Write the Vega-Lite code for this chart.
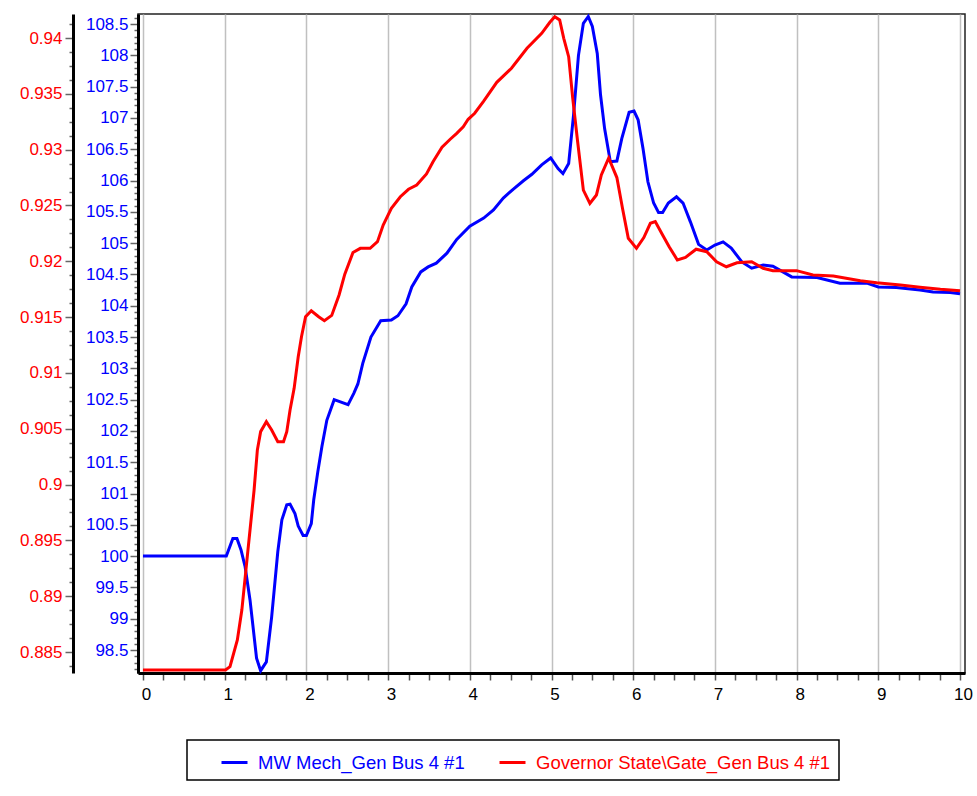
{
  "$schema": "https://vega.github.io/schema/vega-lite/v6.json",
  "width": 827,
  "height": 659,
  "autosize": {"type": "none"},
  "padding": {"left": 138, "top": 14, "right": 12, "bottom": 123},
  "background": "#ffffff",
  "config": {
    "font": "Liberation Sans",
    "view": {"stroke": "#222222", "strokeWidth": 1.5}
  },
  "data": {
    "values": [
      {"s": "MW Mech_Gen Bus 4 #1", "t": 0, "v": 100.0},
      {"s": "MW Mech_Gen Bus 4 #1", "t": 1.02, "v": 100.0},
      {"s": "MW Mech_Gen Bus 4 #1", "t": 1.1, "v": 100.28},
      {"s": "MW Mech_Gen Bus 4 #1", "t": 1.15, "v": 100.28},
      {"s": "MW Mech_Gen Bus 4 #1", "t": 1.2, "v": 100.1},
      {"s": "MW Mech_Gen Bus 4 #1", "t": 1.25, "v": 99.83},
      {"s": "MW Mech_Gen Bus 4 #1", "t": 1.31, "v": 99.3},
      {"s": "MW Mech_Gen Bus 4 #1", "t": 1.39, "v": 98.37},
      {"s": "MW Mech_Gen Bus 4 #1", "t": 1.44, "v": 98.17},
      {"s": "MW Mech_Gen Bus 4 #1", "t": 1.51, "v": 98.31},
      {"s": "MW Mech_Gen Bus 4 #1", "t": 1.575, "v": 99.03},
      {"s": "MW Mech_Gen Bus 4 #1", "t": 1.65, "v": 100.07},
      {"s": "MW Mech_Gen Bus 4 #1", "t": 1.7, "v": 100.58},
      {"s": "MW Mech_Gen Bus 4 #1", "t": 1.76, "v": 100.82},
      {"s": "MW Mech_Gen Bus 4 #1", "t": 1.8, "v": 100.83},
      {"s": "MW Mech_Gen Bus 4 #1", "t": 1.86, "v": 100.68},
      {"s": "MW Mech_Gen Bus 4 #1", "t": 1.9, "v": 100.48},
      {"s": "MW Mech_Gen Bus 4 #1", "t": 1.96, "v": 100.33},
      {"s": "MW Mech_Gen Bus 4 #1", "t": 2.0, "v": 100.33},
      {"s": "MW Mech_Gen Bus 4 #1", "t": 2.06, "v": 100.52},
      {"s": "MW Mech_Gen Bus 4 #1", "t": 2.09, "v": 100.9},
      {"s": "MW Mech_Gen Bus 4 #1", "t": 2.14, "v": 101.35},
      {"s": "MW Mech_Gen Bus 4 #1", "t": 2.19, "v": 101.75},
      {"s": "MW Mech_Gen Bus 4 #1", "t": 2.25, "v": 102.17},
      {"s": "MW Mech_Gen Bus 4 #1", "t": 2.34, "v": 102.5},
      {"s": "MW Mech_Gen Bus 4 #1", "t": 2.51, "v": 102.42},
      {"s": "MW Mech_Gen Bus 4 #1", "t": 2.58, "v": 102.6},
      {"s": "MW Mech_Gen Bus 4 #1", "t": 2.63, "v": 102.75},
      {"s": "MW Mech_Gen Bus 4 #1", "t": 2.69, "v": 103.08},
      {"s": "MW Mech_Gen Bus 4 #1", "t": 2.79, "v": 103.5},
      {"s": "MW Mech_Gen Bus 4 #1", "t": 2.91, "v": 103.76},
      {"s": "MW Mech_Gen Bus 4 #1", "t": 3.04, "v": 103.77},
      {"s": "MW Mech_Gen Bus 4 #1", "t": 3.12, "v": 103.84},
      {"s": "MW Mech_Gen Bus 4 #1", "t": 3.22, "v": 104.03},
      {"s": "MW Mech_Gen Bus 4 #1", "t": 3.29, "v": 104.3},
      {"s": "MW Mech_Gen Bus 4 #1", "t": 3.4, "v": 104.54},
      {"s": "MW Mech_Gen Bus 4 #1", "t": 3.49, "v": 104.62},
      {"s": "MW Mech_Gen Bus 4 #1", "t": 3.59, "v": 104.68},
      {"s": "MW Mech_Gen Bus 4 #1", "t": 3.72, "v": 104.84},
      {"s": "MW Mech_Gen Bus 4 #1", "t": 3.84, "v": 105.06},
      {"s": "MW Mech_Gen Bus 4 #1", "t": 4.0, "v": 105.27},
      {"s": "MW Mech_Gen Bus 4 #1", "t": 4.17, "v": 105.4},
      {"s": "MW Mech_Gen Bus 4 #1", "t": 4.29, "v": 105.53},
      {"s": "MW Mech_Gen Bus 4 #1", "t": 4.41, "v": 105.72},
      {"s": "MW Mech_Gen Bus 4 #1", "t": 4.53, "v": 105.86},
      {"s": "MW Mech_Gen Bus 4 #1", "t": 4.66, "v": 106.0},
      {"s": "MW Mech_Gen Bus 4 #1", "t": 4.76, "v": 106.1},
      {"s": "MW Mech_Gen Bus 4 #1", "t": 4.88, "v": 106.25},
      {"s": "MW Mech_Gen Bus 4 #1", "t": 4.99, "v": 106.36},
      {"s": "MW Mech_Gen Bus 4 #1", "t": 5.08, "v": 106.19},
      {"s": "MW Mech_Gen Bus 4 #1", "t": 5.14, "v": 106.11},
      {"s": "MW Mech_Gen Bus 4 #1", "t": 5.21, "v": 106.27},
      {"s": "MW Mech_Gen Bus 4 #1", "t": 5.27, "v": 107.05},
      {"s": "MW Mech_Gen Bus 4 #1", "t": 5.33, "v": 108.0},
      {"s": "MW Mech_Gen Bus 4 #1", "t": 5.39, "v": 108.51},
      {"s": "MW Mech_Gen Bus 4 #1", "t": 5.45, "v": 108.62},
      {"s": "MW Mech_Gen Bus 4 #1", "t": 5.5, "v": 108.46},
      {"s": "MW Mech_Gen Bus 4 #1", "t": 5.56, "v": 108.03},
      {"s": "MW Mech_Gen Bus 4 #1", "t": 5.6, "v": 107.37},
      {"s": "MW Mech_Gen Bus 4 #1", "t": 5.65, "v": 106.83},
      {"s": "MW Mech_Gen Bus 4 #1", "t": 5.72, "v": 106.3},
      {"s": "MW Mech_Gen Bus 4 #1", "t": 5.8, "v": 106.31},
      {"s": "MW Mech_Gen Bus 4 #1", "t": 5.86, "v": 106.67},
      {"s": "MW Mech_Gen Bus 4 #1", "t": 5.95, "v": 107.09},
      {"s": "MW Mech_Gen Bus 4 #1", "t": 6.01, "v": 107.11},
      {"s": "MW Mech_Gen Bus 4 #1", "t": 6.06, "v": 106.97},
      {"s": "MW Mech_Gen Bus 4 #1", "t": 6.12, "v": 106.51},
      {"s": "MW Mech_Gen Bus 4 #1", "t": 6.18, "v": 105.98},
      {"s": "MW Mech_Gen Bus 4 #1", "t": 6.25, "v": 105.64},
      {"s": "MW Mech_Gen Bus 4 #1", "t": 6.31, "v": 105.49},
      {"s": "MW Mech_Gen Bus 4 #1", "t": 6.36, "v": 105.49},
      {"s": "MW Mech_Gen Bus 4 #1", "t": 6.43, "v": 105.64},
      {"s": "MW Mech_Gen Bus 4 #1", "t": 6.53, "v": 105.74},
      {"s": "MW Mech_Gen Bus 4 #1", "t": 6.61, "v": 105.64},
      {"s": "MW Mech_Gen Bus 4 #1", "t": 6.7, "v": 105.34},
      {"s": "MW Mech_Gen Bus 4 #1", "t": 6.8, "v": 104.98},
      {"s": "MW Mech_Gen Bus 4 #1", "t": 6.9, "v": 104.89},
      {"s": "MW Mech_Gen Bus 4 #1", "t": 7.0, "v": 104.97},
      {"s": "MW Mech_Gen Bus 4 #1", "t": 7.1, "v": 105.02},
      {"s": "MW Mech_Gen Bus 4 #1", "t": 7.2, "v": 104.92},
      {"s": "MW Mech_Gen Bus 4 #1", "t": 7.33, "v": 104.7},
      {"s": "MW Mech_Gen Bus 4 #1", "t": 7.45, "v": 104.6},
      {"s": "MW Mech_Gen Bus 4 #1", "t": 7.59, "v": 104.65},
      {"s": "MW Mech_Gen Bus 4 #1", "t": 7.71, "v": 104.63},
      {"s": "MW Mech_Gen Bus 4 #1", "t": 7.94, "v": 104.46},
      {"s": "MW Mech_Gen Bus 4 #1", "t": 8.25, "v": 104.45},
      {"s": "MW Mech_Gen Bus 4 #1", "t": 8.53, "v": 104.36},
      {"s": "MW Mech_Gen Bus 4 #1", "t": 8.86, "v": 104.36},
      {"s": "MW Mech_Gen Bus 4 #1", "t": 9.0, "v": 104.3},
      {"s": "MW Mech_Gen Bus 4 #1", "t": 9.22, "v": 104.29},
      {"s": "MW Mech_Gen Bus 4 #1", "t": 9.51, "v": 104.25},
      {"s": "MW Mech_Gen Bus 4 #1", "t": 9.67, "v": 104.22},
      {"s": "MW Mech_Gen Bus 4 #1", "t": 9.88, "v": 104.21},
      {"s": "MW Mech_Gen Bus 4 #1", "t": 10.0, "v": 104.19},
      {"s": "Governor State\\Gate_Gen Bus 4 #1", "t": 0, "v": 0.88339},
      {"s": "Governor State\\Gate_Gen Bus 4 #1", "t": 1.01, "v": 0.88339},
      {"s": "Governor State\\Gate_Gen Bus 4 #1", "t": 1.065, "v": 0.88369},
      {"s": "Governor State\\Gate_Gen Bus 4 #1", "t": 1.155, "v": 0.88608},
      {"s": "Governor State\\Gate_Gen Bus 4 #1", "t": 1.21, "v": 0.88876},
      {"s": "Governor State\\Gate_Gen Bus 4 #1", "t": 1.26, "v": 0.89235},
      {"s": "Governor State\\Gate_Gen Bus 4 #1", "t": 1.31, "v": 0.89593},
      {"s": "Governor State\\Gate_Gen Bus 4 #1", "t": 1.36, "v": 0.89951},
      {"s": "Governor State\\Gate_Gen Bus 4 #1", "t": 1.4, "v": 0.9031},
      {"s": "Governor State\\Gate_Gen Bus 4 #1", "t": 1.44, "v": 0.90474},
      {"s": "Governor State\\Gate_Gen Bus 4 #1", "t": 1.51, "v": 0.90563},
      {"s": "Governor State\\Gate_Gen Bus 4 #1", "t": 1.575, "v": 0.90489},
      {"s": "Governor State\\Gate_Gen Bus 4 #1", "t": 1.65, "v": 0.90384},
      {"s": "Governor State\\Gate_Gen Bus 4 #1", "t": 1.72, "v": 0.90384},
      {"s": "Governor State\\Gate_Gen Bus 4 #1", "t": 1.76, "v": 0.90474},
      {"s": "Governor State\\Gate_Gen Bus 4 #1", "t": 1.8, "v": 0.90668},
      {"s": "Governor State\\Gate_Gen Bus 4 #1", "t": 1.85, "v": 0.90862},
      {"s": "Governor State\\Gate_Gen Bus 4 #1", "t": 1.9, "v": 0.91145},
      {"s": "Governor State\\Gate_Gen Bus 4 #1", "t": 1.94, "v": 0.91324},
      {"s": "Governor State\\Gate_Gen Bus 4 #1", "t": 1.99, "v": 0.91503},
      {"s": "Governor State\\Gate_Gen Bus 4 #1", "t": 2.06, "v": 0.91557},
      {"s": "Governor State\\Gate_Gen Bus 4 #1", "t": 2.15, "v": 0.91503},
      {"s": "Governor State\\Gate_Gen Bus 4 #1", "t": 2.22, "v": 0.91468},
      {"s": "Governor State\\Gate_Gen Bus 4 #1", "t": 2.31, "v": 0.91515},
      {"s": "Governor State\\Gate_Gen Bus 4 #1", "t": 2.4, "v": 0.91698},
      {"s": "Governor State\\Gate_Gen Bus 4 #1", "t": 2.47, "v": 0.91885},
      {"s": "Governor State\\Gate_Gen Bus 4 #1", "t": 2.57, "v": 0.92078},
      {"s": "Governor State\\Gate_Gen Bus 4 #1", "t": 2.66, "v": 0.92116},
      {"s": "Governor State\\Gate_Gen Bus 4 #1", "t": 2.78, "v": 0.92116},
      {"s": "Governor State\\Gate_Gen Bus 4 #1", "t": 2.87, "v": 0.92175},
      {"s": "Governor State\\Gate_Gen Bus 4 #1", "t": 2.94, "v": 0.92325},
      {"s": "Governor State\\Gate_Gen Bus 4 #1", "t": 3.04, "v": 0.92474},
      {"s": "Governor State\\Gate_Gen Bus 4 #1", "t": 3.15, "v": 0.92578},
      {"s": "Governor State\\Gate_Gen Bus 4 #1", "t": 3.25, "v": 0.92645},
      {"s": "Governor State\\Gate_Gen Bus 4 #1", "t": 3.35, "v": 0.92683},
      {"s": "Governor State\\Gate_Gen Bus 4 #1", "t": 3.47, "v": 0.92782},
      {"s": "Governor State\\Gate_Gen Bus 4 #1", "t": 3.55, "v": 0.92892},
      {"s": "Governor State\\Gate_Gen Bus 4 #1", "t": 3.66, "v": 0.93021},
      {"s": "Governor State\\Gate_Gen Bus 4 #1", "t": 3.76, "v": 0.93093},
      {"s": "Governor State\\Gate_Gen Bus 4 #1", "t": 3.84, "v": 0.93146},
      {"s": "Governor State\\Gate_Gen Bus 4 #1", "t": 3.92, "v": 0.93205},
      {"s": "Governor State\\Gate_Gen Bus 4 #1", "t": 3.98, "v": 0.93272},
      {"s": "Governor State\\Gate_Gen Bus 4 #1", "t": 4.06, "v": 0.93326},
      {"s": "Governor State\\Gate_Gen Bus 4 #1", "t": 4.17, "v": 0.93435},
      {"s": "Governor State\\Gate_Gen Bus 4 #1", "t": 4.33, "v": 0.93603},
      {"s": "Governor State\\Gate_Gen Bus 4 #1", "t": 4.51, "v": 0.93729},
      {"s": "Governor State\\Gate_Gen Bus 4 #1", "t": 4.7, "v": 0.93908},
      {"s": "Governor State\\Gate_Gen Bus 4 #1", "t": 4.88, "v": 0.94042},
      {"s": "Governor State\\Gate_Gen Bus 4 #1", "t": 4.98, "v": 0.94141},
      {"s": "Governor State\\Gate_Gen Bus 4 #1", "t": 5.04, "v": 0.94191},
      {"s": "Governor State\\Gate_Gen Bus 4 #1", "t": 5.1, "v": 0.94161},
      {"s": "Governor State\\Gate_Gen Bus 4 #1", "t": 5.15, "v": 0.93997},
      {"s": "Governor State\\Gate_Gen Bus 4 #1", "t": 5.21, "v": 0.93833},
      {"s": "Governor State\\Gate_Gen Bus 4 #1", "t": 5.26, "v": 0.9346},
      {"s": "Governor State\\Gate_Gen Bus 4 #1", "t": 5.32, "v": 0.93071},
      {"s": "Governor State\\Gate_Gen Bus 4 #1", "t": 5.39, "v": 0.92638},
      {"s": "Governor State\\Gate_Gen Bus 4 #1", "t": 5.47, "v": 0.92519},
      {"s": "Governor State\\Gate_Gen Bus 4 #1", "t": 5.55, "v": 0.92594},
      {"s": "Governor State\\Gate_Gen Bus 4 #1", "t": 5.61, "v": 0.92773},
      {"s": "Governor State\\Gate_Gen Bus 4 #1", "t": 5.7, "v": 0.92925},
      {"s": "Governor State\\Gate_Gen Bus 4 #1", "t": 5.8, "v": 0.9275},
      {"s": "Governor State\\Gate_Gen Bus 4 #1", "t": 5.87, "v": 0.9247},
      {"s": "Governor State\\Gate_Gen Bus 4 #1", "t": 5.94, "v": 0.92206},
      {"s": "Governor State\\Gate_Gen Bus 4 #1", "t": 6.04, "v": 0.92116},
      {"s": "Governor State\\Gate_Gen Bus 4 #1", "t": 6.13, "v": 0.92212},
      {"s": "Governor State\\Gate_Gen Bus 4 #1", "t": 6.21, "v": 0.9234},
      {"s": "Governor State\\Gate_Gen Bus 4 #1", "t": 6.27, "v": 0.92355},
      {"s": "Governor State\\Gate_Gen Bus 4 #1", "t": 6.36, "v": 0.92235},
      {"s": "Governor State\\Gate_Gen Bus 4 #1", "t": 6.44, "v": 0.9213},
      {"s": "Governor State\\Gate_Gen Bus 4 #1", "t": 6.54, "v": 0.92012},
      {"s": "Governor State\\Gate_Gen Bus 4 #1", "t": 6.64, "v": 0.92035},
      {"s": "Governor State\\Gate_Gen Bus 4 #1", "t": 6.77, "v": 0.92108},
      {"s": "Governor State\\Gate_Gen Bus 4 #1", "t": 6.9, "v": 0.92086},
      {"s": "Governor State\\Gate_Gen Bus 4 #1", "t": 7.02, "v": 0.91996},
      {"s": "Governor State\\Gate_Gen Bus 4 #1", "t": 7.14, "v": 0.91951},
      {"s": "Governor State\\Gate_Gen Bus 4 #1", "t": 7.27, "v": 0.91987},
      {"s": "Governor State\\Gate_Gen Bus 4 #1", "t": 7.45, "v": 0.91996},
      {"s": "Governor State\\Gate_Gen Bus 4 #1", "t": 7.59, "v": 0.91937},
      {"s": "Governor State\\Gate_Gen Bus 4 #1", "t": 7.71, "v": 0.91916},
      {"s": "Governor State\\Gate_Gen Bus 4 #1", "t": 8.0, "v": 0.91916},
      {"s": "Governor State\\Gate_Gen Bus 4 #1", "t": 8.2, "v": 0.91877},
      {"s": "Governor State\\Gate_Gen Bus 4 #1", "t": 8.45, "v": 0.91868},
      {"s": "Governor State\\Gate_Gen Bus 4 #1", "t": 8.78, "v": 0.91826},
      {"s": "Governor State\\Gate_Gen Bus 4 #1", "t": 8.98, "v": 0.91808},
      {"s": "Governor State\\Gate_Gen Bus 4 #1", "t": 9.27, "v": 0.91788},
      {"s": "Governor State\\Gate_Gen Bus 4 #1", "t": 9.51, "v": 0.91767},
      {"s": "Governor State\\Gate_Gen Bus 4 #1", "t": 9.76, "v": 0.91749},
      {"s": "Governor State\\Gate_Gen Bus 4 #1", "t": 10.0, "v": 0.91736}
    ]
  },
  "encoding": {
    "x": {
      "field": "t",
      "type": "quantitative",
      "scale": {"domain": [-0.061, 10.061], "nice": false, "zero": false},
      "axis": {
        "title": null,
        "values": [0,0.25,0.5,0.75,1,1.25,1.5,1.75,2,2.25,2.5,2.75,3,3.25,3.5,3.75,4,4.25,4.5,4.75,5,5.25,5.5,5.75,6,6.25,6.5,6.75,7,7.25,7.5,7.75,8,8.25,8.5,8.75,9,9.25,9.5,9.75,10],
        "labelExpr": "datum.value % 1 === 0 ? format(datum.value, 'd') : ''",
        "grid": true,
        "gridColor": "#c0c0c0",
        "gridWidth": 1.5,
        "gridOpacity": {"condition": {"test": "datum.value % 1 !== 0", "value": 0}, "value": 1},
        "domainColor": "#000000",
        "domainWidth": 3,
        "tickColor": "#555555",
        "tickSize": 7,
        "tickWidth": 1.5,
        "labelFontSize": 17,
        "labelColor": "#000000",
        "labelPadding": 6,
        "labelOffset": 3,
        "labelFlush": false,
        "labelOverlap": false
      }
    },
    "color": {
      "field": "s",
      "type": "nominal",
      "scale": {
        "domain": ["MW Mech_Gen Bus 4 #1", "Governor State\\Gate_Gen Bus 4 #1"],
        "range": ["#0000ff", "#ff0000"]
      },
      "legend": {
        "orient": "none",
        "legendX": 49,
        "legendY": 726,
        "direction": "horizontal",
        "title": null,
        "symbolType": "stroke",
        "symbolStrokeWidth": 3,
        "symbolSize": 676,
        "symbolOffset": 25,
        "labelOffset": 9,
        "labelFontSize": 18.5,
        "labelFont": "Liberation Sans",
        "labelLimit": 400,
        "columnPadding": 8,
        "padding": 8,
        "strokeColor": "#000000",
        "fillColor": "#ffffff",
        "encode": {
          "legend": {"update": {"strokeWidth": {"value": 1.5}}},
          "labels": {"update": {"fill": {"signal": "datum.value === 'MW Mech_Gen Bus 4 #1' ? '#0000ff' : '#ff0000'"}}}
        }
      }
    }
  },
  "layer": [
    {
      "transform": [{"filter": "datum.s === 'MW Mech_Gen Bus 4 #1'"}],
      "mark": {"type": "line", "strokeWidth": 3},
      "encoding": {
        "y": {
          "field": "v",
          "type": "quantitative",
          "scale": {"domain": [98.133, 108.66], "nice": false, "zero": false},
          "axis": {
            "orient": "left",
            "title": null,
            "grid": false,
            "values": [98.2,98.3,98.4,98.5,98.6,98.7,98.8,98.9,99,99.1,99.2,99.3,99.4,99.5,99.6,99.7,99.8,99.9,100,100.1,100.2,100.3,100.4,100.5,100.6,100.7,100.8,100.9,101,101.1,101.2,101.3,101.4,101.5,101.6,101.7,101.8,101.9,102,102.1,102.2,102.3,102.4,102.5,102.6,102.7,102.8,102.9,103,103.1,103.2,103.3,103.4,103.5,103.6,103.7,103.8,103.9,104,104.1,104.2,104.3,104.4,104.5,104.6,104.7,104.8,104.9,105,105.1,105.2,105.3,105.4,105.5,105.6,105.7,105.8,105.9,106,106.1,106.2,106.3,106.4,106.5,106.6,106.7,106.8,106.9,107,107.1,107.2,107.3,107.4,107.5,107.6,107.7,107.8,107.9,108,108.1,108.2,108.3,108.4,108.5,108.6],
            "labelExpr": "abs(datum.value*2 - round(datum.value*2)) < 0.01 ? format(round(datum.value*2)/2, '') : ''",
            "labelColor": "#0000ff",
            "labelFontSize": 17,
            "labelPadding": 2,
            "labelOverlap": false,
            "labelFlush": false,
            "tickColor": "#666666",
            "tickWidth": 1.5,
            "tickSize": {"condition": {"test": "abs(datum.value*2 - round(datum.value*2)) < 0.01", "value": 8}, "value": 4},
            "domainColor": "#000000",
            "domainWidth": 3
          }
        }
      }
    },
    {
      "transform": [{"filter": "datum.s !== 'MW Mech_Gen Bus 4 #1'"}],
      "mark": {"type": "line", "strokeWidth": 3},
      "encoding": {
        "y": {
          "field": "v",
          "type": "quantitative",
          "scale": {"domain": [0.88312, 0.94215], "nice": false, "zero": false},
          "axis": {
            "orient": "left",
            "offset": 65,
            "title": null,
            "grid": false,
            "values": [0.88375,0.885,0.88625,0.8875,0.88875,0.89,0.89125,0.8925,0.89375,0.895,0.89625,0.8975,0.89875,0.9,0.90125,0.9025,0.90375,0.905,0.90625,0.9075,0.90875,0.91,0.91125,0.9125,0.91375,0.915,0.91625,0.9175,0.91875,0.92,0.92125,0.9225,0.92375,0.925,0.92625,0.9275,0.92875,0.93,0.93125,0.9325,0.93375,0.935,0.93625,0.9375,0.93875,0.94,0.94125],
            "labelExpr": "abs(datum.value*200 - round(datum.value*200)) < 0.01 ? format(round(datum.value*200)/200, '') : ''",
            "labelColor": "#ff0000",
            "labelFontSize": 17,
            "labelPadding": 3,
            "labelOverlap": false,
            "labelFlush": false,
            "tickColor": "#666666",
            "tickWidth": 1.5,
            "tickSize": {"condition": {"test": "abs(datum.value*200 - round(datum.value*200)) < 0.01", "value": 8}, "value": 4},
            "domainColor": "#000000",
            "domainWidth": 3
          }
        }
      }
    }
  ],
  "resolve": {"scale": {"y": "independent"}, "axis": {"y": "independent"}}
}
